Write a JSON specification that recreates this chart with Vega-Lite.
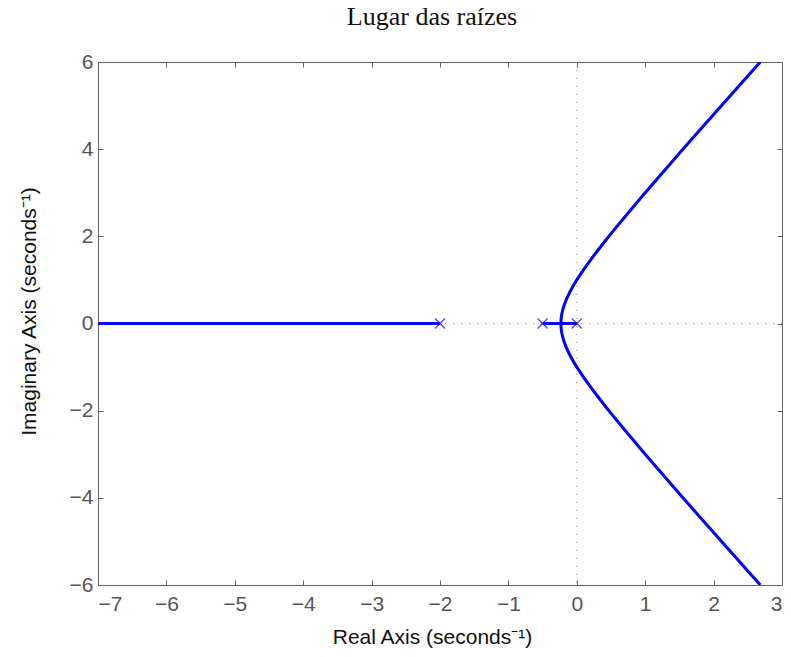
{
  "$schema": "https://vega.github.io/schema/vega-lite/v6.json",
  "width": 684,
  "height": 523,
  "autosize": {"type": "none"},
  "padding": {"left": 98, "top": 62, "right": 9, "bottom": 72},
  "background": "white",
  "title": {
    "text": "Lugar das raízes",
    "font": "Liberation Serif",
    "fontSize": 26,
    "fontWeight": "normal",
    "color": "#111",
    "anchor": "middle",
    "frame": "group",
    "baseline": "alphabetic",
    "offset": 0,
    "dx": -8
  },
  "config": {
    "view": {"stroke": "#666", "strokeWidth": 1},
    "axis": {
      "grid": false,
      "domainColor": "#666",
      "tickColor": "#666",
      "tickSize": -5,
      "labelColor": "#555",
      "labelFont": "Liberation Sans",
      "labelFontSize": 21,
      "titleFont": "Liberation Sans",
      "titleFontSize": 21,
      "titleFontWeight": "normal",
      "titleColor": "#111"
    }
  },
  "datasets": {
    "locus": [
      {"branch": "left", "order": 0, "x": -2, "y": 0},
      {"branch": "left", "order": 1, "x": -7, "y": 0},
      {"branch": "mid", "order": 0, "x": -0.5, "y": 0},
      {"branch": "mid", "order": 1, "x": -0.2324, "y": 0},
      {"branch": "zero", "order": 0, "x": 0, "y": 0},
      {"branch": "zero", "order": 1, "x": -0.2324, "y": 0},
      {"branch": "upper", "order": 0, "x": -0.2324, "y": 0},
      {"branch": "upper", "order": 1, "x": -0.23, "y": 0.093},
      {"branch": "upper", "order": 2, "x": -0.225, "y": 0.164},
      {"branch": "upper", "order": 3, "x": -0.22, "y": 0.213},
      {"branch": "upper", "order": 4, "x": -0.21, "y": 0.287},
      {"branch": "upper", "order": 5, "x": -0.2, "y": 0.346},
      {"branch": "upper", "order": 6, "x": -0.18, "y": 0.444},
      {"branch": "upper", "order": 7, "x": -0.15, "y": 0.564},
      {"branch": "upper", "order": 8, "x": -0.1, "y": 0.728},
      {"branch": "upper", "order": 9, "x": -0.05, "y": 0.87},
      {"branch": "upper", "order": 10, "x": 0, "y": 1},
      {"branch": "upper", "order": 11, "x": 0.1, "y": 1.237},
      {"branch": "upper", "order": 12, "x": 0.2, "y": 1.456},
      {"branch": "upper", "order": 13, "x": 0.3, "y": 1.664},
      {"branch": "upper", "order": 14, "x": 0.4, "y": 1.865},
      {"branch": "upper", "order": 15, "x": 0.5, "y": 2.062},
      {"branch": "upper", "order": 16, "x": 0.75, "y": 2.537},
      {"branch": "upper", "order": 17, "x": 1, "y": 3},
      {"branch": "upper", "order": 18, "x": 1.25, "y": 3.455},
      {"branch": "upper", "order": 19, "x": 1.5, "y": 3.905},
      {"branch": "upper", "order": 20, "x": 1.75, "y": 4.352},
      {"branch": "upper", "order": 21, "x": 2, "y": 4.796},
      {"branch": "upper", "order": 22, "x": 2.25, "y": 5.238},
      {"branch": "upper", "order": 23, "x": 2.5, "y": 5.679},
      {"branch": "upper", "order": 24, "x": 2.6825, "y": 6},
      {"branch": "lower", "order": 0, "x": -0.2324, "y": 0},
      {"branch": "lower", "order": 1, "x": -0.23, "y": -0.093},
      {"branch": "lower", "order": 2, "x": -0.225, "y": -0.164},
      {"branch": "lower", "order": 3, "x": -0.22, "y": -0.213},
      {"branch": "lower", "order": 4, "x": -0.21, "y": -0.287},
      {"branch": "lower", "order": 5, "x": -0.2, "y": -0.346},
      {"branch": "lower", "order": 6, "x": -0.18, "y": -0.444},
      {"branch": "lower", "order": 7, "x": -0.15, "y": -0.564},
      {"branch": "lower", "order": 8, "x": -0.1, "y": -0.728},
      {"branch": "lower", "order": 9, "x": -0.05, "y": -0.87},
      {"branch": "lower", "order": 10, "x": 0, "y": -1},
      {"branch": "lower", "order": 11, "x": 0.1, "y": -1.237},
      {"branch": "lower", "order": 12, "x": 0.2, "y": -1.456},
      {"branch": "lower", "order": 13, "x": 0.3, "y": -1.664},
      {"branch": "lower", "order": 14, "x": 0.4, "y": -1.865},
      {"branch": "lower", "order": 15, "x": 0.5, "y": -2.062},
      {"branch": "lower", "order": 16, "x": 0.75, "y": -2.537},
      {"branch": "lower", "order": 17, "x": 1, "y": -3},
      {"branch": "lower", "order": 18, "x": 1.25, "y": -3.455},
      {"branch": "lower", "order": 19, "x": 1.5, "y": -3.905},
      {"branch": "lower", "order": 20, "x": 1.75, "y": -4.352},
      {"branch": "lower", "order": 21, "x": 2, "y": -4.796},
      {"branch": "lower", "order": 22, "x": 2.25, "y": -5.238},
      {"branch": "lower", "order": 23, "x": 2.5, "y": -5.679},
      {"branch": "lower", "order": 24, "x": 2.6825, "y": -6}
    ],
    "poles": [
      {"x": -2, "y": 0},
      {"x": -0.5, "y": 0},
      {"x": 0, "y": 0}
    ],
    "guides": [
      {"v": 0}
    ]
  },
  "layer": [
    {
      "data": {"name": "guides"},
      "mark": {"type": "rule", "color": "#8c8c8c", "strokeWidth": 1, "strokeDash": [1, 7]},
      "encoding": {
        "x": {
          "field": "v", "type": "quantitative",
          "scale": {"domain": [-7, 3], "nice": false, "zero": false},
          "axis": {"orient": "top", "values": [-7, -6, -5, -4, -3, -2, -1, 0, 1, 2, 3], "labels": false, "title": null}
        }
      }
    },
    {
      "data": {"name": "guides"},
      "mark": {"type": "rule", "color": "#8c8c8c", "strokeWidth": 1, "strokeDash": [1, 7]},
      "encoding": {
        "y": {
          "field": "v", "type": "quantitative",
          "scale": {"domain": [-6, 6], "nice": false, "zero": false},
          "axis": {"orient": "right", "values": [-6, -4, -2, 0, 2, 4, 6], "labels": false, "title": null}
        }
      }
    },
    {
      "data": {"name": "locus"},
      "mark": {"type": "line", "color": "#0000ff", "strokeWidth": 3, "clip": true},
      "encoding": {
        "x": {
          "field": "x", "type": "quantitative",
          "scale": {"domain": [-7, 3], "nice": false, "zero": false},
          "axis": {"orient": "bottom", "values": [-7, -6, -5, -4, -3, -2, -1, 0, 1, 2, 3], "title": "Real Axis (seconds⁻¹)", "labelPadding": 13, "titlePadding": 12, "titleX": 334}
        },
        "y": {
          "field": "y", "type": "quantitative",
          "scale": {"domain": [-6, 6], "nice": false, "zero": false},
          "axis": {"orient": "left", "values": [-6, -4, -2, 0, 2, 4, 6], "title": "Imaginary Axis (seconds⁻¹)", "labelPadding": 10, "titlePadding": 30, "titleY": 249}
        },
        "detail": {"field": "branch"},
        "order": {"field": "order", "type": "quantitative"}
      }
    },
    {
      "data": {"name": "poles"},
      "mark": {"type": "point", "shape": "M-1,-1L1,1M-1,1L1,-1", "color": "#0000ff", "size": 100, "strokeWidth": 1.3, "filled": false},
      "encoding": {
        "x": {"field": "x", "type": "quantitative", "scale": {"domain": [-7, 3], "nice": false, "zero": false}, "axis": null},
        "y": {"field": "y", "type": "quantitative", "scale": {"domain": [-6, 6], "nice": false, "zero": false}, "axis": null}
      }
    }
  ],
  "resolve": {"axis": {"x": "independent", "y": "independent"}}
}
